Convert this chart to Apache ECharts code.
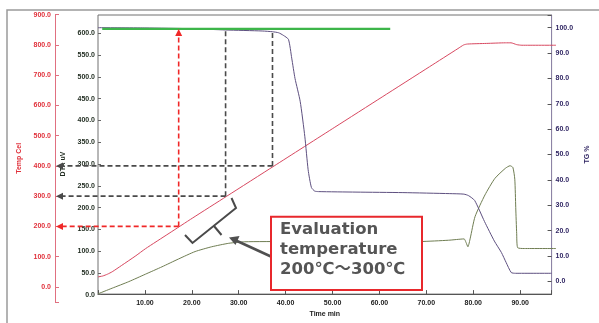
<!DOCTYPE html>
<html>
<head>
<meta charset="utf-8">
<script src="https://cdn.jsdelivr.net/npm/echarts@6/dist/echarts.min.js"></script>
<style>
html, body { margin: 0; padding: 0; background: #fff; }
#chart { width: 599px; height: 323px; }
</style>
</head>
<body>
<div id="chart"></div>
<script>
// time axis (min)
var timeMax = 96.7;

// furnace temperature, Cel
var tempTimes = [0, 1, 2, 3, 5, 8, 10, 15, 20, 27.2, 37.2, 50, 60, 70, 76, 77.2, 78, 82, 86, 87.2, 88.4, 89.5, 96.7];
var tempVals  = [33, 36, 42, 50, 71, 103, 126, 177, 228, 300, 400, 528, 628, 728, 788, 800, 803, 805, 807, 807, 801, 799, 799];

// TG, %
var tgTimes = [0, 10, 20, 27.2, 35, 37.2, 38.5, 39.5, 40.6, 41.3, 42, 43.1, 44.1, 44.8, 45.5, 46.2, 47, 55, 65, 75, 78, 79, 80.3, 82.4, 84.5, 86, 87, 88.1, 89, 96.7];
var tgVals  = [100, 99.9, 99.6, 99.1, 98.7, 98.4, 98, 97, 95.4, 88, 80, 71, 57, 44, 37, 35.6, 35.4, 35.2, 35, 34.6, 34.4, 33.8, 31.9, 23.6, 15.9, 11.4, 7.5, 3.5, 3.2, 3.2];

// DTA, uV
var dtaTimes = [0, 3, 6.5, 10, 13.5, 17, 20.5, 24, 27.6, 31, 40, 50, 60, 68, 74, 77.3, 77.7, 78.1, 78.6, 79.6, 81.7, 83.8, 86, 87, 87.6, 88, 88.2, 88.4, 88.6, 90, 96.7];
var dtaVals  = [2, 15, 30, 47, 64, 82, 99, 110, 118, 121.5, 122, 122, 121.5, 122, 125, 128, 120, 110, 130, 179, 229, 267, 290, 296, 292, 265, 200, 140, 108, 106, 106];

// green reference line at TG ~100 %
var refTimes = [0.9, 62.3];
var refVals  = [99.5, 99.5];

// evaluation guides: time where the temperature reaches each value
var evalTimes = [17.2, 27.2, 37.2];
var evalTemps = [200, 300, 400];
var evalTops  = [99.5, 99.1, 98.4];   // TG level where each vertical stops
var evalColors = ['#f02828', '#4a4a4a', '#4a4a4a'];

function pairs(xs, ys) {
    return xs.map(function (x, i) { return [x, ys[i]]; });
}

var gridLeft = 98, gridRight = 43;
var tempOffset = 43;

var lbl = function (color) {
    return { fontSize: 7, fontWeight: 'bold', color: color, fontFamily: 'Liberation Sans, Arial' };
};

var chart = echarts.init(document.getElementById('chart'));

var option = {
    animation: false,
    backgroundColor: '#fff',
    grid: [
        { left: gridLeft, right: gridRight, top: 15, bottom: 22, show: true, borderColor: '#707070', borderWidth: 1 },
        { left: gridLeft, right: gridRight, top: 33.3, bottom: 28.3 },
        { left: gridLeft, right: gridRight, top: 14.7, bottom: 21 }
    ],
    xAxis: [
        {
            gridIndex: 0, type: 'value', min: 0, max: timeMax, interval: 10,
            axisLine: { onZero: false, lineStyle: { color: '#555' } },
            axisTick: { inside: true, length: 4, lineStyle: { color: '#555' } },
            splitLine: { show: false },
            axisLabel: Object.assign(lbl('#222'), {
                margin: 5,
                formatter: function (v) { return (v > 0 && Math.abs(v % 10) < 1e-6) ? v.toFixed(2) : ''; }
            }),
            name: 'Time min', nameLocation: 'middle', nameGap: 12,
            nameTextStyle: lbl('#222')
        },
        { gridIndex: 1, type: 'value', min: 0, max: timeMax, show: false },
        { gridIndex: 2, type: 'value', min: 0, max: timeMax, show: false }
    ],
    yAxis: [
        {
            gridIndex: 0, type: 'value', position: 'right', min: -5, max: 105, splitNumber: 11,
            axisLine: { show: true, onZero: false, lineStyle: { color: '#8d84a6' } },
            axisTick: { inside: true, length: 4, lineStyle: { color: '#555' } },
            splitLine: { show: false },
            axisLabel: Object.assign(lbl('#2a1f5e'), {
                margin: 4,
                formatter: function (v) { return (v >= 0 && v <= 100 && Math.abs(v % 10) < 1e-6) ? v.toFixed(1) : ''; }
            }),
            name: 'TG %', nameLocation: 'middle', nameGap: 30, nameRotate: 90,
            nameTextStyle: lbl('#2a1f5e')
        },
        {
            gridIndex: 1, type: 'value', position: 'left', min: 0, max: 600, interval: 50,
            axisLine: { show: false, onZero: false },
            axisTick: { show: true, inside: true, length: 3, lineStyle: { color: '#666' } },
            splitLine: { show: false },
            axisLabel: Object.assign(lbl('#1e2a1e'), {
                margin: 3,
                formatter: function (v) { return v.toFixed(1); }
            }),
            name: 'DTA uV', nameLocation: 'middle', nameGap: 31, nameRotate: 90,
            nameTextStyle: lbl('#1e2a1e')
        },
        {
            gridIndex: 2, type: 'value', position: 'left', offset: tempOffset, min: -50, max: 900, splitNumber: 10,
            axisLine: { show: true, onZero: false, lineStyle: { color: '#e07080' } },
            axisTick: { inside: true, length: 4, lineStyle: { color: '#e07080' } },
            splitLine: { show: false },
            axisLabel: Object.assign(lbl('#e0303a'), {
                margin: 4,
                formatter: function (v) { return (v >= 0 && Math.abs(v % 100) < 1e-6) ? v.toFixed(1) : ''; }
            }),
            name: 'Temp Cel', nameLocation: 'middle', nameGap: 31, nameRotate: 90,
            nameTextStyle: lbl('#e0303a')
        }
    ],
    series: [
        {
            name: 'Temp', type: 'line', xAxisIndex: 2, yAxisIndex: 2,
            data: pairs(tempTimes, tempVals), showSymbol: false, smooth: 0.2,
            lineStyle: { color: '#d84860', width: 1 }
        },
        {
            name: 'DTA', type: 'line', xAxisIndex: 1, yAxisIndex: 1,
            data: pairs(dtaTimes, dtaVals), showSymbol: false, smooth: 0.2,
            lineStyle: { color: '#6f7d52', width: 1 }
        },
        {
            name: 'TG', type: 'line', xAxisIndex: 0, yAxisIndex: 0,
            data: pairs(tgTimes, tgVals), showSymbol: false, smooth: 0.2,
            lineStyle: { color: '#5e5080', width: 1 }
        },
        {
            name: 'ref', type: 'line', xAxisIndex: 0, yAxisIndex: 0,
            data: pairs(refTimes, refVals), showSymbol: false,
            lineStyle: { color: '#3db54a', width: 2.2 }
        }
    ]
};

chart.setOption(option);

// guides and callout, placed through the axes' own scales
var tempAxisX = gridLeft - tempOffset;
var g = [];

g.push({
    type: 'rect', silent: true, z: 1,
    shape: { x: 7, y: 10, width: 640, height: 340 },
    style: { fill: 'none', stroke: '#9a9a9a', lineWidth: 1.5 }
});

evalTimes.forEach(function (t, i) {
    var x = chart.convertToPixel({ xAxisIndex: 0 }, t);
    var y = chart.convertToPixel({ yAxisIndex: 2 }, evalTemps[i]);
    var top = chart.convertToPixel({ yAxisIndex: 0 }, evalTops[i]);
    var c = evalColors[i];
    var dash = { stroke: c, lineWidth: 1.6, lineDash: [5, 3], fill: 'none' };
    var tip = i === 0 ? top + 7 : top;
    g.push({ type: 'line', z: 20, shape: { x1: x, y1: y, x2: x, y2: tip }, style: dash });
    g.push({ type: 'line', z: 20, shape: { x1: x, y1: y, x2: tempAxisX + 7, y2: y }, style: dash });
    g.push({
        type: 'polygon', z: 20,
        shape: { points: [[tempAxisX + 1, y], [tempAxisX + 8, y - 3.5], [tempAxisX + 8, y + 3.5]] },
        style: { fill: c }
    });
    if (i === 0) {
        g.push({
            type: 'polygon', z: 20,
            shape: { points: [[x, top], [x - 3.5, top + 7], [x + 3.5, top + 7]] },
            style: { fill: c }
        });
    }
});

// bracket along the heating line
g.push({
    type: 'polyline', z: 20,
    shape: { points: [[231.5, 198], [236, 208], [192.5, 243], [185, 235]] },
    style: { stroke: '#4a4a4a', lineWidth: 2, fill: 'none' }
});
g.push({
    type: 'line', z: 20,
    shape: { x1: 214, y1: 226, x2: 221.5, y2: 235 },
    style: { stroke: '#4a4a4a', lineWidth: 2 }
});

// arrow from the callout
g.push({
    type: 'line', z: 20,
    shape: { x1: 272, y1: 257, x2: 236, y2: 240.5 },
    style: { stroke: '#505050', lineWidth: 2.5 }
});
g.push({
    type: 'polygon', z: 20,
    shape: { points: [[229, 237.5], [239.5, 236], [235.5, 245]] },
    style: { fill: '#505050' }
});

// callout box
g.push({
    type: 'rect', z: 21,
    shape: { x: 271, y: 216.7, width: 151, height: 73.3 },
    style: { fill: '#fff', stroke: '#e8282c', lineWidth: 2 }
});
['Evaluation', 'temperature', '200℃～300℃'].forEach(function (s, i) {
    g.push({
        type: 'text', z: 22,
        style: {
            text: s, x: 280, y: 230 + i * 20,
            fill: '#555', verticalAlign: 'middle',
            font: 'bold 16.5px "DejaVu Sans", "Noto Sans CJK JP"'
        }
    });
});

chart.setOption({ graphic: g });
</script>
</body>
</html>
